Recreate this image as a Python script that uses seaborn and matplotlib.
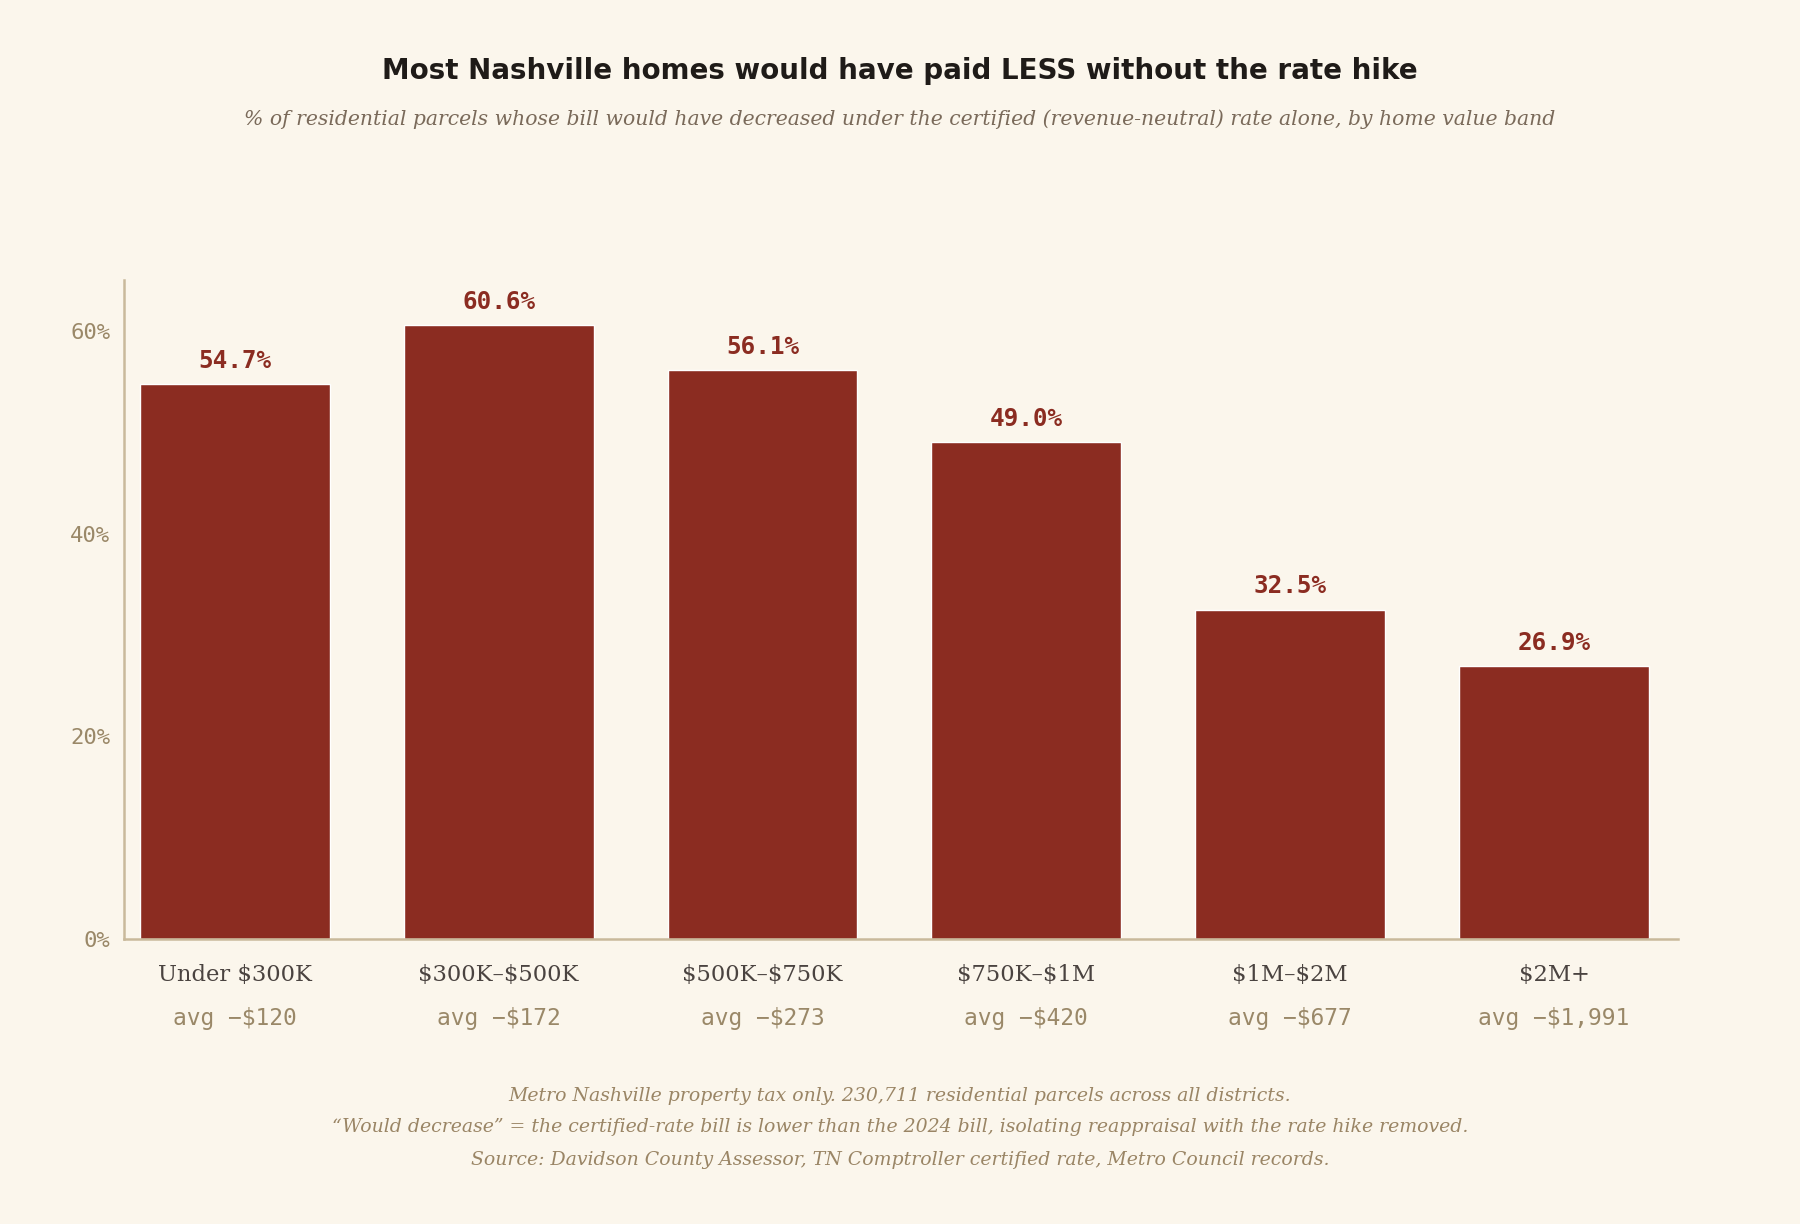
import pandas as pd
import matplotlib
matplotlib.use("Agg")
import matplotlib.pyplot as plt
import matplotlib.transforms as mtransforms
import seaborn as sns

# Data
bands = ["Under $300K", "$300K–$500K", "$500K–$750K", "$750K–$1M", "$1M–$2M", "$2M+"]
pct_decrease = [54.7, 60.6, 56.1, 49.0, 32.5, 26.9]
avg_change = ["avg −$120", "avg −$172", "avg −$273", "avg −$420", "avg −$677", "avg −$1,991"]
y_ticks = [0, 20, 40, 60]

footer_lines = [
    "Metro Nashville property tax only. 230,711 residential parcels across all districts.",
    "“Would decrease” = the certified-rate bill is lower than the 2024 bill, isolating reappraisal with the rate hike removed.",
    "Source: Davidson County Assessor, TN Comptroller certified rate, Metro Council records.",
]

df = pd.DataFrame({"band": bands, "pct": pct_decrease})

# Colours
bg = "#fbf6ec"
bar_red = "#8b2c21"
spine_col = "#c9b99b"
tick_col = "#9a8868"

sns.set_theme(style="white")
plt.rcParams["font.family"] = ["DejaVu Sans"]
plt.rcParams["text.parse_math"] = False  # dollar signs are literal

fig = plt.figure(figsize=(18, 12.24), dpi=100, facecolor=bg)
ax = fig.add_axes([0.0689, 0.2328, 0.8633, 0.5384])
ax.set_facecolor(bg)

sns.barplot(data=df, x="band", y="pct", color=bar_red, width=0.72,
            saturation=1, ax=ax)

ax.set_ylim(0, 65)
ax.set_xlim(-0.42, 5.47)
ax.set_yticks(y_ticks)
ax.set_yticklabels([f"{t}%" for t in y_ticks], family="DejaVu Sans Mono",
                   fontsize=16, color=tick_col)
ax.tick_params(axis="y", length=0, pad=10)
ax.set_xticks([])
ax.set_xlabel("")
ax.set_ylabel("")

for side in ["top", "right"]:
    ax.spines[side].set_visible(False)
for side in ["left", "bottom"]:
    ax.spines[side].set_color(spine_col)
    ax.spines[side].set_linewidth(1.8)

# Value labels above bars
for i, v in enumerate(pct_decrease):
    ax.annotate(f"{v:.1f}%", (i, v), xytext=(0, 8), textcoords="offset points",
                ha="center", va="bottom", family="DejaVu Sans Mono",
                fontweight="bold", fontsize=17.5, color=bar_red)

# Category labels and average change beneath the axis
trans = mtransforms.blended_transform_factory(ax.transData, ax.transAxes)
for i, (b, a) in enumerate(zip(bands, avg_change)):
    ax.text(i, -0.055, b, transform=trans, ha="center", va="center",
            family="DejaVu Serif", fontsize=16.3, color="#4a4340")
    ax.text(i, -0.121, a, transform=trans, ha="center", va="center",
            family="DejaVu Sans Mono", fontsize=16.5, color=tick_col)

# Title and subtitle
fig.text(0.5, 0.942, "Most Nashville homes would have paid LESS without the rate hike",
         ha="center", va="center", fontsize=20, fontweight="bold", color="#1f1b18")
fig.text(0.5, 0.903,
         "% of residential parcels whose bill would have decreased under the certified "
         "(revenue-neutral) rate alone, by home value band",
         ha="center", va="center", family="DejaVu Serif", style="italic",
         fontsize=14.7, color="#7a6a5a")

# Footer notes
for y, line in zip([0.1046, 0.0793, 0.0523], footer_lines):
    fig.text(0.5, y, line, ha="center", va="center", family="DejaVu Serif",
             style="italic", fontsize=13.6, color="#9a8565")

fig.savefig("out.png", dpi=100, facecolor=bg)
